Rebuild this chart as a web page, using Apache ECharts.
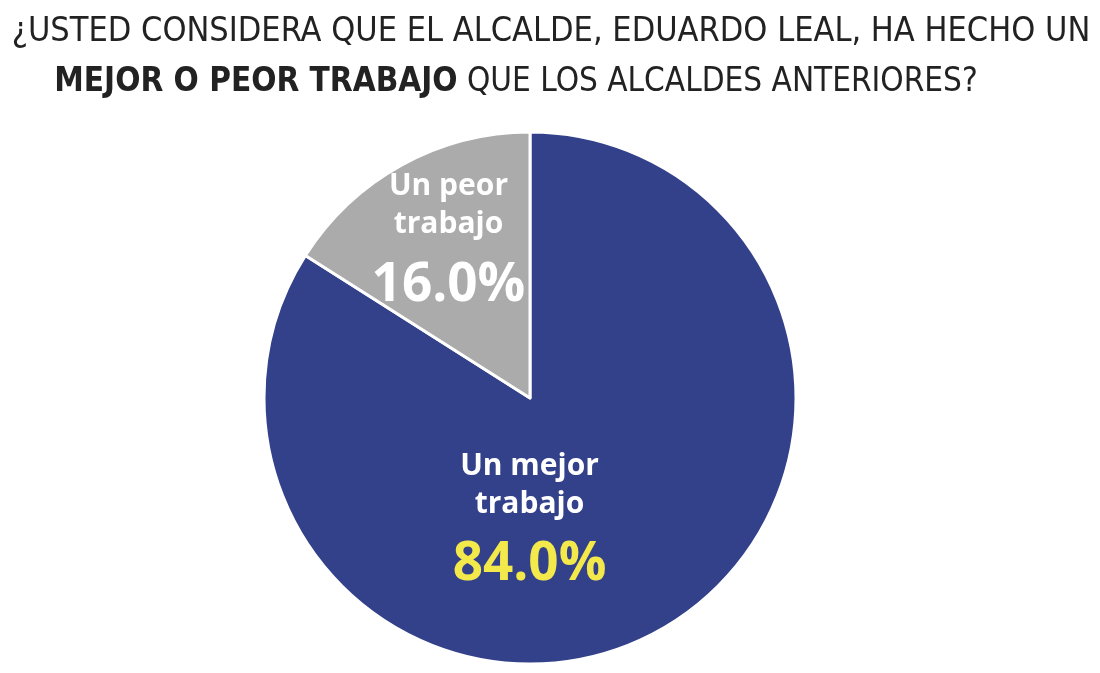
<!DOCTYPE html>
<html>
<head>
<meta charset="utf-8">
<script src="https://cdn.jsdelivr.net/npm/echarts@6/dist/echarts.min.js"></script>
<style>html,body{margin:0;padding:0;background:#fff}#c{width:1100px;height:673px}</style>
</head>
<body>
<div id="c"></div>
<script>
const categories = ['Un mejor trabajo', 'Un peor trabajo'];
const labelLines = [['Un mejor', 'trabajo'], ['Un peor', 'trabajo']];
const values = [84.0, 16.0];
const titleLine1 = '¿USTED CONSIDERA QUE EL ALCALDE, EDUARDO LEAL, HA HECHO UN';
const titleBold = 'MEJOR O PEOR TRABAJO';
const titleRest = ' QUE LOS ALCALDES ANTERIORES?';

const colors = ['#33408A', '#ABABAB'];
const pctColors = ['#F4E94A', '#FFFFFF'];
const labelOffsets = [[-66, 10], [-16, -31]];

const titleFont = "'Liberation Sans Narrow', 'DejaVu Sans Condensed', 'Roboto', sans-serif";
const labelFont = "'Open Sans', 'Noto Sans', sans-serif";

const chart = echarts.init(document.getElementById('c'));
chart.setOption({
  animation: false,
  graphic: [
    {
      type: 'text', x: 551, y: 49,
      style: {
        text: titleLine1, fill: '#222', font: '34px ' + titleFont,
        textAlign: 'center', textVerticalAlign: 'bottom'
      }
    },
    {
      type: 'text', x: 516, y: 99,
      style: {
        text: '{b|' + titleBold + '}{r|' + titleRest + '}',
        textAlign: 'center', textVerticalAlign: 'bottom',
        rich: {
          b: { fontFamily: titleFont, fontSize: 33, fontWeight: 'bold', fill: '#222' },
          r: { fontFamily: titleFont, fontSize: 33, fill: '#222' }
        }
      }
    }
  ],
  series: [{
    type: 'pie',
    center: [530, 398],
    radius: [0, 266],
    startAngle: 90,
    clockwise: true,
    silent: true,
    itemStyle: { borderColor: '#fff', borderWidth: 3 },
    labelLine: { show: false },
    data: categories.map((c, i) => ({
      name: c,
      value: values[i],
      itemStyle: { color: colors[i] },
      label: {
        show: true,
        position: 'inside',
        offset: labelOffsets[i],
        formatter: () => labelLines[i].map(s => '{n|' + s + '}').join('\n') + '\n{p|' + values[i].toFixed(1) + '%}',
        rich: {
          n: { fontFamily: labelFont, fontSize: 30, fontWeight: 'bold', color: '#fff', lineHeight: 38, align: 'center' },
          p: { fontFamily: labelFont, fontSize: 53, fontWeight: 'bold', color: pctColors[i], lineHeight: 84, align: 'center' }
        }
      }
    }))
  }]
});
</script>
</body>
</html>
